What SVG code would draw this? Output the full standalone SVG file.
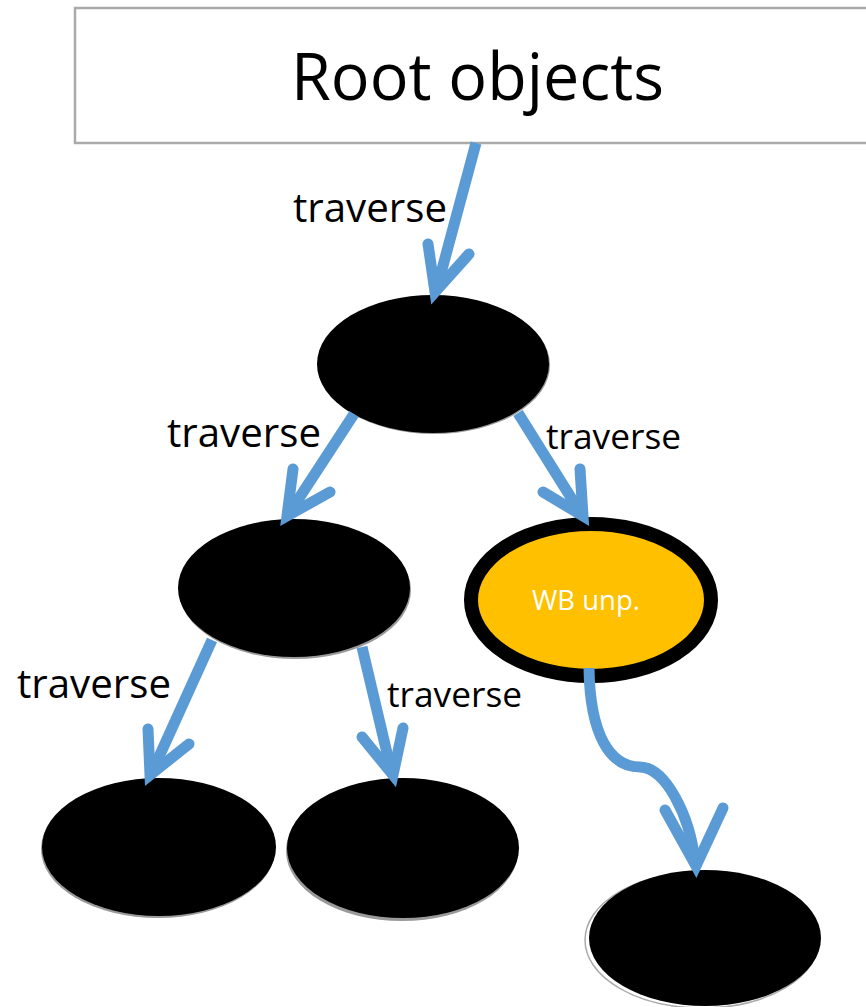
<svg xmlns="http://www.w3.org/2000/svg" width="866" height="1007" viewBox="0 0 866 1007">
<style>
.lbl{font-family:"Open Sans","Liberation Sans",sans-serif;fill:#000}
.con{fill:none;stroke:#5B9BD5;stroke-width:11}
.head{fill:none;stroke:#5B9BD5;stroke-width:11;stroke-linecap:round;stroke-linejoin:miter;stroke-miterlimit:10}
.node{fill:#000}
.shadow{fill:#9a9a9a}
</style>
<rect width="866" height="1007" fill="#fff"/>
<g id="root">
<rect x="75" y="8" width="800" height="135" fill="#fff" stroke="#aaaaaa" stroke-width="2.5"/>
<text class="lbl" x="291" y="100" font-size="66" textLength="373" lengthAdjust="spacingAndGlyphs">Root objects</text>
</g>
<g id="n1">
<ellipse class="shadow" cx="434" cy="365" rx="116" ry="69"/>
<ellipse class="node" cx="433" cy="364" rx="116" ry="69"/>
</g>
<g id="n2">
<ellipse class="shadow" cx="295" cy="590" rx="116" ry="69"/>
<ellipse class="node" cx="294" cy="588" rx="116" ry="69"/>
</g>
<g id="wb">
<ellipse cx="591" cy="600" rx="120" ry="76" fill="#FFC000" stroke="#000" stroke-width="14"/>
<text x="586" y="610" font-family="Open Sans, Liberation Sans, sans-serif" font-size="27" fill="#fff" text-anchor="middle" textLength="108" lengthAdjust="spacingAndGlyphs">WB unp.</text>
</g>
<g id="n3">
<ellipse class="shadow" cx="158" cy="849" rx="117" ry="69"/>
<ellipse class="node" cx="159" cy="847" rx="117" ry="69"/>
</g>
<g id="n4">
<ellipse class="shadow" cx="402" cy="851" rx="116" ry="70"/>
<ellipse class="node" cx="403" cy="848" rx="116" ry="70"/>
</g>
<g id="n5">
<ellipse cx="702" cy="940" rx="117" ry="68" fill="none" stroke="#aaaaaa" stroke-width="1.5"/>
<ellipse class="node" cx="705" cy="938" rx="116" ry="68"/>
</g>
<g id="connectors">
<path class="con" d="M476,143 L437,288"/>
<path class="head" d="M428,244 L435,292 L469,254"/>
<path class="con" d="M354,414 L290,512"/>
<path class="head" d="M293,469 L287,516 L330,492"/>
<path class="con" d="M518,413 L580,512"/>
<path class="head" d="M580,469 L583,516 L543,492"/>
<path class="con" d="M212,640 L153,770"/>
<path class="head" d="M148,729 L150,775 L189,744"/>
<path class="con" d="M362,647 L391,770"/>
<path class="head" d="M403,728 L393,775 L362,737"/>
<path class="con" d="M589,668 C590,735 610,767 640,767 C665,767 690,815 695,862" stroke-width="13"/>
<path class="head" d="M665,810 L696,866 L723,808" stroke-width="13"/>
<text class="lbl" x="293" y="222" font-size="40" textLength="154" lengthAdjust="spacingAndGlyphs">traverse</text>
<text class="lbl" x="167" y="447" font-size="40" textLength="154" lengthAdjust="spacingAndGlyphs">traverse</text>
<text class="lbl" x="546" y="449" font-size="35" textLength="135" lengthAdjust="spacingAndGlyphs">traverse</text>
<text class="lbl" x="17" y="698" font-size="40" textLength="154" lengthAdjust="spacingAndGlyphs">traverse</text>
<text class="lbl" x="387" y="707" font-size="35" textLength="135" lengthAdjust="spacingAndGlyphs">traverse</text>
</g>
</svg>
